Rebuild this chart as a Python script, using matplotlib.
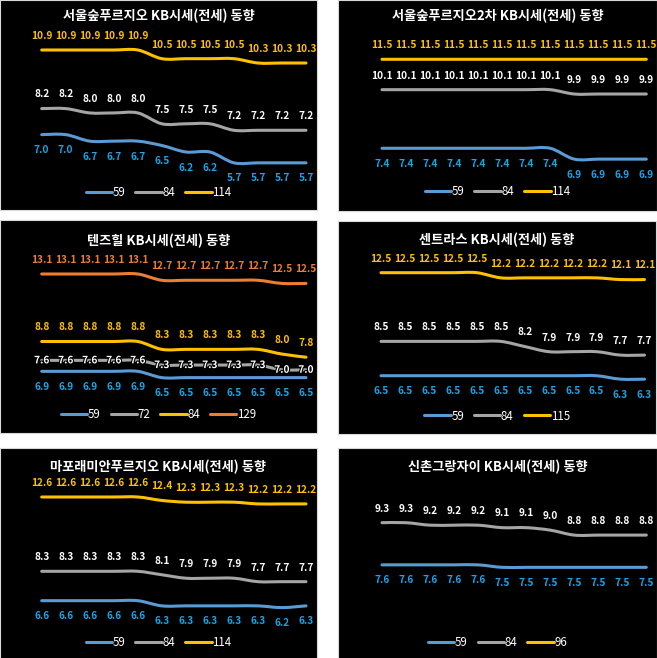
import matplotlib
matplotlib.use("Agg")
import matplotlib.pyplot as plt
from matplotlib.path import Path
from matplotlib.patches import PathPatch
from matplotlib.lines import Line2D
import matplotlib.patheffects as pe

plt.rcParams['font.family'] = ['Noto Sans CJK KR', 'DejaVu Sans']

# ---------------- DATA ----------------
titles = [
    "서울숲푸르지오 KB시세(전세) 동향",
    "서울숲푸르지오2차 KB시세(전세) 동향",
    "텐즈힐 KB시세(전세) 동향",
    "센트라스 KB시세(전세) 동향",
    "마포래미안푸르지오 KB시세(전세) 동향",
    "신촌그랑자이 KB시세(전세) 동향",
]

p1_names = ["59", "84", "114"]
p1_59 = [7.0, 7.0, 6.7, 6.7, 6.7, 6.5, 6.2, 6.2, 5.7, 5.7, 5.7, 5.7]
p1_84 = [8.2, 8.2, 8.0, 8.0, 8.0, 7.5, 7.5, 7.5, 7.2, 7.2, 7.2, 7.2]
p1_114 = [10.9, 10.9, 10.9, 10.9, 10.9, 10.5, 10.5, 10.5, 10.5, 10.3, 10.3, 10.3]

p2_names = ["59", "84", "114"]
p2_59 = [7.4, 7.4, 7.4, 7.4, 7.4, 7.4, 7.4, 7.4, 6.9, 6.9, 6.9, 6.9]
p2_84 = [10.1, 10.1, 10.1, 10.1, 10.1, 10.1, 10.1, 10.1, 9.9, 9.9, 9.9, 9.9]
p2_114 = [11.5] * 12

p3_names = ["59", "72", "84", "129"]
p3_59 = [6.9, 6.9, 6.9, 6.9, 6.9, 6.5, 6.5, 6.5, 6.5, 6.5, 6.5, 6.5]
p3_72 = [7.6, 7.6, 7.6, 7.6, 7.6, 7.3, 7.3, 7.3, 7.3, 7.3, 7.0, 7.0]
p3_84 = [8.8, 8.8, 8.8, 8.8, 8.8, 8.3, 8.3, 8.3, 8.3, 8.3, 8.0, 7.8]
p3_129 = [13.1, 13.1, 13.1, 13.1, 13.1, 12.7, 12.7, 12.7, 12.7, 12.7, 12.5, 12.5]

p4_names = ["59", "84", "115"]
p4_59 = [6.5, 6.5, 6.5, 6.5, 6.5, 6.5, 6.5, 6.5, 6.5, 6.5, 6.3, 6.3]
p4_84 = [8.5, 8.5, 8.5, 8.5, 8.5, 8.5, 8.2, 7.9, 7.9, 7.9, 7.7, 7.7]
p4_115 = [12.5, 12.5, 12.5, 12.5, 12.5, 12.2, 12.2, 12.2, 12.2, 12.2, 12.1, 12.1]

p5_names = ["59", "84", "114"]
p5_59 = [6.6, 6.6, 6.6, 6.6, 6.6, 6.3, 6.3, 6.3, 6.3, 6.3, 6.2, 6.3]
p5_84 = [8.3, 8.3, 8.3, 8.3, 8.3, 8.1, 7.9, 7.9, 7.9, 7.7, 7.7, 7.7]
p5_114 = [12.6, 12.6, 12.6, 12.6, 12.6, 12.4, 12.3, 12.3, 12.3, 12.2, 12.2, 12.2]

p6_names = ["59", "84", "96"]
p6_59 = [7.6, 7.6, 7.6, 7.6, 7.6, 7.5, 7.5, 7.5, 7.5, 7.5, 7.5, 7.5]
p6_84 = [9.3, 9.3, 9.2, 9.2, 9.2, 9.1, 9.1, 9.0, 8.8, 8.8, 8.8, 8.8]
p6_96 = []

# ---------------- STYLE / LAYOUT ----------------
BLUE, GRAY, GOLD, ORANGE = "#5B9BD5", "#A5A5A5", "#FFC000", "#ED7D31"
LBL_BLUE, LBL_WHITE, LBL_GOLD, LBL_ORANGE = "#1FA3E6", "#FFFFFF", "#FFC000", "#ED7D31"

W, H = 657, 658
fig = plt.figure(figsize=(W / 100, H / 100), dpi=100, facecolor="white")

# (rect x0,y0,x1,y1), first x px, last x px, ref value, ref y px, px per unit, title y, legend y
panels = [
    dict(rect=(0, 0, 317, 210), xf=41.7, xl=306, vref=10.9, yref=50, ppu=21.7, ty=15.7, ly=192.7,
         series=[(p1_59, BLUE, LBL_BLUE, 'below'), (p1_84, GRAY, LBL_WHITE, 'above'),
                 (p1_114, GOLD, LBL_GOLD, 'above')], names=p1_names, title=titles[0]),
    dict(rect=(338, 0, 657, 211), xf=382, xl=646.3, vref=11.5, yref=59.3, ppu=21.7, ty=15.7, ly=191.7,
         series=[(p2_59, BLUE, LBL_BLUE, 'below'), (p2_84, GRAY, LBL_WHITE, 'above'),
                 (p2_114, GOLD, LBL_GOLD, 'above')], names=p2_names, title=titles[1]),
    dict(rect=(0, 220, 317, 433), xf=41.7, xl=306, vref=13.1, yref=274, ppu=15.7, ty=240.7, ly=414.3,
         series=[(p3_59, BLUE, LBL_BLUE, 'below'), (p3_72, GRAY, LBL_WHITE, 'center'),
                 (p3_84, GOLD, LBL_GOLD, 'above'), (p3_129, ORANGE, LBL_ORANGE, 'above')],
         names=p3_names, title=titles[2]),
    dict(rect=(338, 221, 656, 434), xf=381, xl=644.5, vref=12.5, yref=272.7, ppu=17.17, ty=240, ly=416,
         series=[(p4_59, BLUE, LBL_BLUE, 'below'), (p4_84, GRAY, LBL_WHITE, 'above'),
                 (p4_115, GOLD, LBL_GOLD, 'above')], names=p4_names, title=titles[3]),
    dict(rect=(0, 448, 317, 660), xf=41.7, xl=306, vref=12.6, yref=497, ppu=17.28, ty=467.3, ly=642.3,
         series=[(p5_59, BLUE, LBL_BLUE, 'below'), (p5_84, GRAY, LBL_WHITE, 'above'),
                 (p5_114, GOLD, LBL_GOLD, 'above')], names=p5_names, title=titles[4]),
    dict(rect=(338, 448, 657, 660), xf=382, xl=646.3, vref=9.3, yref=522.7, ppu=24.8, ty=467.3, ly=642.3,
         series=[(p6_59, BLUE, LBL_BLUE, 'below'), (p6_84, GRAY, LBL_WHITE, 'above'),
                 (p6_96, GOLD, LBL_GOLD, 'above')], names=p6_names, title=titles[5]),
]

OFF = {'above': 10.2, 'below': -11.2, 'center': 0.0}
LW = 2.2


def smooth_path(xs, ys):
    n = len(xs)
    verts = [(xs[0], ys[0])]
    codes = [Path.MOVETO]
    for i in range(n - 1):
        x0, y0 = xs[i], ys[i]
        x1, y1 = xs[i + 1], ys[i + 1]
        xm, ym = (xs[i - 1], ys[i - 1]) if i > 0 else (x0, y0)
        xp, yp = (xs[i + 2], ys[i + 2]) if i + 2 < n else (x1, y1)
        c1 = (x0 + (x1 - xm) / 6.0, y0 + (y1 - ym) / 6.0)
        c2 = (x1 - (xp - x0) / 6.0, y1 - (yp - y0) / 6.0)
        verts += [c1, c2, (x1, y1)]
        codes += [Path.CURVE4] * 3
    return Path(verts, codes)


for p in panels:
    x0, y0, x1, y1 = p['rect']
    ax = fig.add_axes([x0 / W, 1 - y1 / H, (x1 - x0) / W, (y1 - y0) / H])
    ax.set_facecolor("black")
    ax.set_xticks([])
    ax.set_yticks([])
    for s in ax.spines.values():
        s.set_color("#D9D9D9")
        s.set_linewidth(0.8)
    step = (p['xl'] - p['xf']) / 11.0
    ax.set_xlim((x0 - p['xf']) / step, (x1 - p['xf']) / step)
    ax.set_ylim(p['vref'] - (y1 - p['yref']) / p['ppu'], p['vref'] + (p['yref'] - y0) / p['ppu'])

    handles = []
    for (vals, lc, tc, pos), name in zip(p['series'], p['names']):
        handles.append(Line2D([0], [0], color=lc, lw=LW, solid_capstyle='round'))
        if not vals:
            continue
        xs = list(range(len(vals)))
        patch = PathPatch(smooth_path(xs, vals), facecolor='none', edgecolor=lc, lw=LW,
                          capstyle='round', zorder=2)
        ax.add_patch(patch)
        for i, v in zip(xs, vals):
            t = ax.annotate(f"{v:.1f}", (i, v), xytext=(0, OFF[pos]), textcoords='offset points',
                            ha='center', va='center', fontsize=7.3, fontweight='bold', color=tc,
                            zorder=3)
            if pos == 'center':
                t.set_path_effects([pe.withStroke(linewidth=1.6, foreground='black')])

    h = y1 - y0
    ax.text(0.5, 1 - (p['ty'] - y0) / h, p['title'], transform=ax.transAxes, ha='center',
            va='center', fontsize=9.5, fontweight='bold', color='white')
    ax.legend(handles, p['names'], loc='center', bbox_to_anchor=(0.5, 1 - (p['ly'] - y0) / h),
              ncol=len(handles), frameon=False, fontsize=8.3, labelcolor='white',
              handlelength=2.3, handletextpad=0.05, columnspacing=0.85, borderpad=0)

fig.savefig("out.png", dpi=100, facecolor="white")
